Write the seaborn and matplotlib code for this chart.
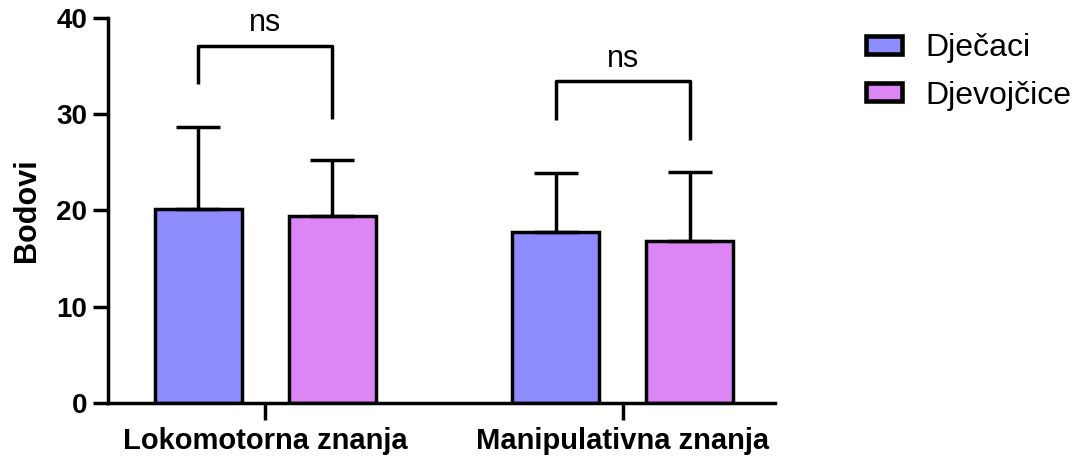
import numpy as np
import pandas as pd
import matplotlib
matplotlib.use("Agg")
import matplotlib.pyplot as plt
import seaborn as sns
from matplotlib.patches import Patch

# data
categories = ["Lokomotorna znanja", "Manipulativna znanja"]
groups = ["Dječaci", "Djevojčice"]
means_boys = [20.1, 17.8]
means_girls = [19.4, 16.8]
sd_boys = [8.6, 6.1]
sd_girls = [5.8, 7.2]
# significance brackets: top, left leg end, right leg end
bracket_top = [37.1, 33.4]
bracket_left = [33.1, 29.4]
bracket_right = [29.5, 27.3]
sig_labels = ["ns", "ns"]
colors = ["#8F8CFF", "#DC85F5"]

df = pd.DataFrame({
    "cat": categories * 2,
    "grp": [groups[0]] * 2 + [groups[1]] * 2,
    "val": means_boys + means_girls,
    "sd": sd_boys + sd_girls,
})

sns.set_theme(style="ticks")
plt.rcParams["font.family"] = ["Liberation Sans", "DejaVu Sans"]
plt.rcParams["text.color"] = "black"
plt.rcParams["axes.labelcolor"] = "black"

fig = plt.figure(figsize=(10.79, 4.59), dpi=100)
ax = fig.add_axes([0.1, 0.122, 0.618, 0.839])

lw = 2.5
sns.barplot(data=df, x="cat", y="val", hue="grp", palette=colors,
            saturation=1, width=0.75, gap=0.35, edgecolor="black",
            linewidth=lw, errorbar=None, legend=False, ax=ax)

# upper error bars, using the bar positions seaborn produced
for i, grp in enumerate(groups):
    sub = df[df["grp"] == grp]
    bars = ax.containers[i]
    xs = [b.get_x() + b.get_width() / 2 for b in bars]
    tops = sub["val"].values
    ax.errorbar(xs, tops, yerr=[np.zeros(len(tops)), sub["sd"].values],
                fmt="none", ecolor="black", elinewidth=lw, capsize=16,
                capthick=lw, zorder=1)

# significance brackets
for j in range(len(categories)):
    b0 = ax.containers[0][j]
    b1 = ax.containers[1][j]
    x0 = b0.get_x() + b0.get_width() / 2
    x1 = b1.get_x() + b1.get_width() / 2
    ax.plot([x0, x0, x1, x1],
            [bracket_left[j], bracket_top[j], bracket_top[j], bracket_right[j]],
            color="black", lw=lw, solid_capstyle="butt", clip_on=False)
    ax.text((x0 + x1) / 2, bracket_top[j] + 0.8, sig_labels[j],
            ha="center", va="bottom", fontsize=22)

ax.set_ylim(0, 40)
ax.set_xlim(-0.44, 1.425)
ax.set_yticks([0, 10, 20, 30, 40])
ax.set_xlabel("")
ax.set_ylabel("Bodovi", fontsize=22, fontweight="bold", labelpad=10)
sns.despine(ax=ax)
for s in ["left", "bottom"]:
    ax.spines[s].set_linewidth(lw)
    ax.spines[s].set_color("black")
ax.tick_params(axis="y", length=11, width=lw, labelsize=20, pad=4, colors="black")
ax.tick_params(axis="x", length=12, width=lw, labelsize=21, pad=5, colors="black")
for lab in ax.get_xticklabels() + ax.get_yticklabels():
    lab.set_fontweight("bold")

handles = [Patch(facecolor=c, edgecolor="black", linewidth=lw + 0.8, label=g)
           for c, g in zip(colors, groups)]
fig.legend(handles=handles, loc="upper left", bbox_to_anchor=(0.803, 0.928),
           frameon=False, fontsize=23, handlelength=1.1, handleheight=0.5,
           labelspacing=0.55, handletextpad=0.75, borderpad=0, borderaxespad=0)

fig.savefig("out.png", dpi=100, facecolor="white")
